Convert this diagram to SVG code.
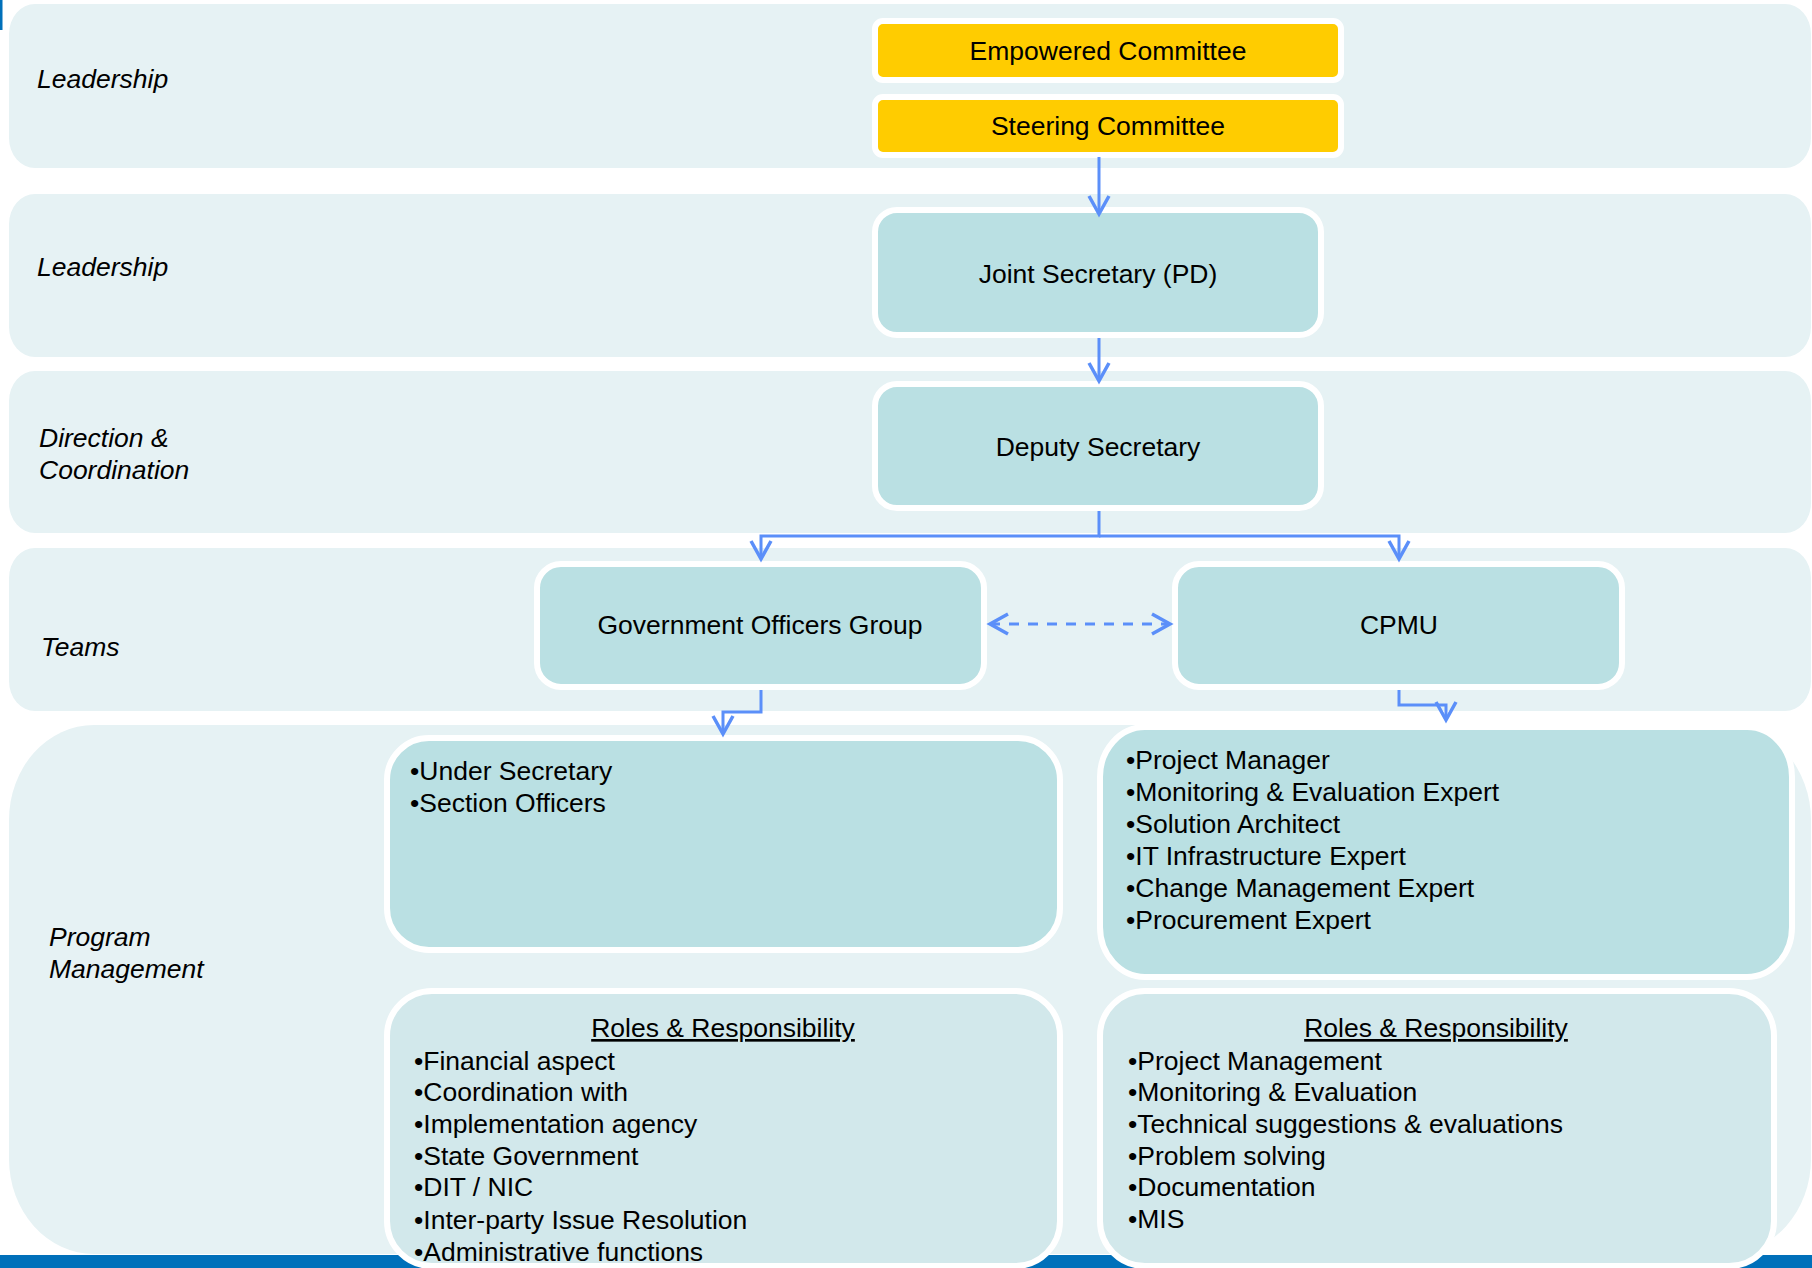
<svg xmlns="http://www.w3.org/2000/svg" width="1812" height="1268" viewBox="0 0 1812 1268">
<style>
.band{fill:#E6F2F4}
.box{fill:#BAE0E3;stroke:#FFFFFF;stroke-width:6}
.yel{fill:#FFCC00;stroke:#FFFFFF;stroke-width:6}
.role{fill:#D2E8EB;stroke:#FFFFFF;stroke-width:6}
.lbl{font-family:"Liberation Sans",Arial,sans-serif;font-size:26.5px;font-style:italic;fill:#000}
.t{font-family:"Liberation Sans",Arial,sans-serif;font-size:26.5px;fill:#000}
.c{text-anchor:middle}
.u{text-decoration:underline}
.con{fill:none;stroke:#5B8FF9;stroke-width:3}
.dash{stroke-dasharray:10 9}
</style>
<defs>
<marker id="ah" markerUnits="userSpaceOnUse" markerWidth="28" markerHeight="30" viewBox="-4 -5 28 30" refX="18" refY="10" orient="auto-start-reverse" overflow="visible">
<path d="M0,0 L18,10 L0,20" fill="none" stroke="#5B8FF9" stroke-width="3.5" stroke-dasharray="none"/>
</marker>
</defs>
<rect x="0" y="0" width="2.5" height="30" fill="#0070BA"/>
<g id="bands">
<rect class="band" x="9" y="4" width="1802" height="164" rx="26" ry="30"/>
<rect class="band" x="9" y="194" width="1802" height="163" rx="26" ry="30"/>
<rect class="band" x="9" y="371" width="1802" height="162" rx="26" ry="30"/>
<rect class="band" x="9" y="548" width="1802" height="163" rx="26" ry="30"/>
<rect class="band" x="9" y="725" width="1802" height="529" rx="85" ry="95"/>
<rect x="0" y="1255" width="1812" height="13" fill="#0070BA"/>
</g>
<g id="lane-labels">
<text class="lbl" x="37" y="88">Leadership</text>
<text class="lbl" x="37" y="276">Leadership</text>
<text class="lbl" x="39" y="447">Direction &amp;</text>
<text class="lbl" x="39" y="479">Coordination</text>
<text class="lbl" x="41" y="656">Teams</text>
<text class="lbl" x="49" y="946">Program</text>
<text class="lbl" x="49" y="978">Management</text>
</g>
<g id="empowered-committee">
<rect class="yel" x="875" y="21" width="466" height="59" rx="8"/>
<text class="t c" x="1108" y="60">Empowered Committee</text>
</g>
<g id="steering-committee">
<rect class="yel" x="875" y="97" width="466" height="58" rx="8"/>
<text class="t c" x="1108" y="135">Steering Committee</text>
</g>
<g id="joint-secretary">
<rect class="box" x="875" y="210" width="446" height="125" rx="22"/>
<text class="t c" x="1098" y="283">Joint Secretary (PD)</text>
</g>
<g id="deputy-secretary">
<rect class="box" x="875" y="384" width="446" height="124" rx="22"/>
<text class="t c" x="1098" y="456">Deputy Secretary</text>
</g>
<g id="government-officers-group">
<rect class="box" x="537" y="564" width="447" height="123" rx="24"/>
<text class="t c" x="760" y="634">Government Officers Group</text>
</g>
<g id="cpmu">
<rect class="box" x="1175" y="564" width="447" height="123" rx="24"/>
<text class="t c" x="1399" y="634">CPMU</text>
</g>
<g id="gov-members">
<rect class="box" x="387" y="738" width="673" height="212" rx="42"/>
<text class="t" x="410" y="780">•Under Secretary</text>
<text class="t" x="410" y="812">•Section Officers</text>
</g>
<g id="cpmu-members">
<rect class="box" x="1100" y="727" width="692" height="250" rx="45" ry="50"/>
<text class="t" x="1126" y="769">•Project Manager</text>
<text class="t" x="1126" y="801">•Monitoring &amp; Evaluation Expert</text>
<text class="t" x="1126" y="833">•Solution Architect</text>
<text class="t" x="1126" y="865">•IT Infrastructure Expert</text>
<text class="t" x="1126" y="897">•Change Management Expert</text>
<text class="t" x="1126" y="929">•Procurement Expert</text>
</g>
<g id="gov-roles">
<rect class="role" x="387" y="991" width="673" height="275" rx="45"/>
<text class="t c u" x="723" y="1037">Roles &amp; Responsibility</text>
<text class="t" x="414" y="1070">•Financial aspect</text>
<text class="t" x="414" y="1101">•Coordination with</text>
<text class="t" x="414" y="1133">•Implementation agency</text>
<text class="t" x="414" y="1165">•State Government</text>
<text class="t" x="414" y="1196">•DIT / NIC</text>
<text class="t" x="414" y="1229">•Inter-party Issue Resolution</text>
<text class="t" x="414" y="1261">•Administrative functions</text>
</g>
<g id="cpmu-roles">
<rect class="role" x="1100" y="991" width="674" height="275" rx="45"/>
<text class="t c u" x="1436" y="1037">Roles &amp; Responsibility</text>
<text class="t" x="1128" y="1070">•Project Management</text>
<text class="t" x="1128" y="1101">•Monitoring &amp; Evaluation</text>
<text class="t" x="1128" y="1133">•Technical suggestions &amp; evaluations</text>
<text class="t" x="1128" y="1165">•Problem solving</text>
<text class="t" x="1128" y="1196">•Documentation</text>
<text class="t" x="1128" y="1228">•MIS</text>
</g>
<g id="connectors">
<path class="con" d="M1099,157 V214" marker-end="url(#ah)"/>
<path class="con" d="M1099,338 V381" marker-end="url(#ah)"/>
<path class="con" d="M1099,511 V536 H761 V559" marker-end="url(#ah)"/>
<path class="con" d="M1099,536 H1399 V559" marker-end="url(#ah)"/>
<path class="con dash" d="M990,624 H1170" marker-start="url(#ah)" marker-end="url(#ah)"/>
<path class="con" d="M761,690 V712 H723 V734" marker-end="url(#ah)"/>
<path class="con" d="M1399,690 V705 H1446 V720" marker-end="url(#ah)"/>
</g>
</svg>
